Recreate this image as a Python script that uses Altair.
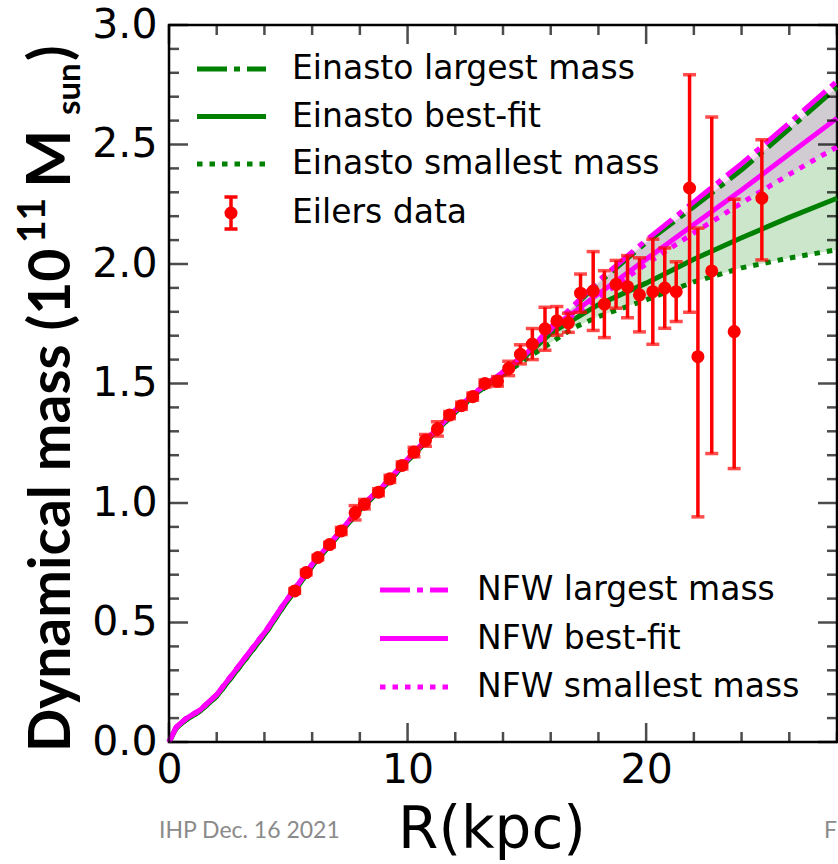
import altair as alt
import pandas as pd

# ---------------- data ----------------
R_eilers = [5.27, 5.75, 6.24, 6.73, 7.22, 7.80, 8.19, 8.78, 9.26, 9.77,
            10.27, 10.75, 11.25, 11.76, 12.26, 12.73, 13.24, 13.77, 14.24, 14.73,
            15.23, 15.76, 16.26, 16.74, 17.25, 17.78, 18.25, 18.74, 19.22, 19.72,
            20.28, 20.78, 21.26, 21.82, 22.17, 22.75, 23.69, 24.85]
M_eilers = [0.632, 0.709, 0.772, 0.826, 0.883, 0.959, 0.995, 1.045, 1.101, 1.157,
            1.213, 1.262, 1.310, 1.368, 1.407, 1.445, 1.500, 1.509, 1.563, 1.622,
            1.665, 1.729, 1.762, 1.754, 1.878, 1.887, 1.832, 1.915, 1.905, 1.871,
            1.884, 1.899, 1.884, 2.318, 1.612, 1.971, 1.717, 2.276]
err_low = [0.010, 0.010, 0.010, 0.010, 0.015, 0.030, 0.020, 0.015, 0.015, 0.015,
           0.020, 0.025, 0.030, 0.015, 0.015, 0.015, 0.015, 0.020, 0.030, 0.040,
           0.065, 0.090, 0.060, 0.040, 0.080, 0.165, 0.140, 0.100, 0.130, 0.155,
           0.220, 0.168, 0.125, 0.520, 0.670, 0.764, 0.573, 0.259]
err_high = [0.010, 0.010, 0.010, 0.010, 0.015, 0.030, 0.020, 0.015, 0.015, 0.015,
            0.020, 0.025, 0.030, 0.015, 0.015, 0.015, 0.015, 0.020, 0.030, 0.040,
            0.065, 0.090, 0.060, 0.040, 0.080, 0.165, 0.140, 0.100, 0.130, 0.155,
            0.220, 0.168, 0.125, 0.474, 0.538, 0.644, 0.554, 0.244]

R_model = [0, 0.3, 0.7, 1.3, 2, 2.7, 3.4, 4.1, 4.8, 5.5, 6, 7, 8, 9, 10, 11, 12, 13, 14,
           15, 16, 17, 18, 20, 22, 24, 26, 28]
einasto_largest = [0, 0.06, 0.095, 0.132, 0.195, 0.285, 0.376, 0.467, 0.572, 0.669, 0.741,
                   0.857, 0.977, 1.071, 1.180, 1.284, 1.385, 1.472, 1.545,
                   1.628, 1.730, 1.825, 1.920, 2.090, 2.240, 2.394, 2.565, 2.740]
einasto_best = [0, 0.058, 0.092, 0.129, 0.191, 0.280, 0.371, 0.462, 0.567, 0.664, 0.736,
                0.853, 0.972, 1.067, 1.176, 1.280, 1.381, 1.468, 1.540,
                1.620, 1.710, 1.770, 1.830, 1.920, 2.020, 2.110, 2.195, 2.275]
einasto_smallest = [0, 0.058, 0.092, 0.129, 0.191, 0.280, 0.371, 0.462, 0.567, 0.664, 0.736,
                    0.853, 0.972, 1.067, 1.176, 1.280, 1.380, 1.465, 1.535,
                    1.605, 1.670, 1.735, 1.780, 1.850, 1.925, 1.984, 2.025, 2.060]
nfw_largest = [0, 0.062, 0.097, 0.134, 0.198, 0.289, 0.380, 0.471, 0.576, 0.672, 0.744,
               0.860, 0.980, 1.074, 1.183, 1.287, 1.388, 1.475, 1.548,
               1.630, 1.735, 1.830, 1.930, 2.100, 2.260, 2.420, 2.590, 2.765]
nfw_best = [0, 0.062, 0.097, 0.134, 0.198, 0.289, 0.380, 0.471, 0.576, 0.672, 0.744,
            0.860, 0.980, 1.074, 1.183, 1.287, 1.388, 1.475, 1.548,
            1.628, 1.730, 1.800, 1.875, 2.020, 2.165, 2.310, 2.460, 2.610]
nfw_smallest = [0, 0.062, 0.097, 0.134, 0.198, 0.289, 0.380, 0.471, 0.576, 0.672, 0.744,
                0.860, 0.980, 1.074, 1.183, 1.287, 1.388, 1.475, 1.548,
                1.625, 1.725, 1.790, 1.860, 2.000, 2.130, 2.255, 2.375, 2.490]

einasto_labels = ["Einasto largest mass", "Einasto best-fit", "Einasto smallest mass"]
nfw_labels = ["NFW largest mass", "NFW best-fit", "NFW smallest mass"]
data_label = "Eilers data"

x_major = [0, 10, 20]
x_minor = [2, 4, 6, 8, 12, 14, 16, 18, 22, 24, 26, 28]
y_major = [0.0, 0.5, 1.0, 1.5, 2.0, 2.5, 3.0]
y_minor = [0.1, 0.2, 0.3, 0.4, 0.6, 0.7, 0.8, 0.9, 1.1, 1.2, 1.3, 1.4, 1.6, 1.7, 1.8, 1.9,
           2.1, 2.2, 2.3, 2.4, 2.6, 2.7, 2.8, 2.9]

# ---------------- styling ----------------
W, H = 668, 717
GREEN, MAGENTA, RED, INK = "#008000", "#ff00ff", "#ff0000", "#000000"
DASHDOT = [30, 7, 6, 7]
DOT = [5.5, 7]
LW = 5
FONT = "DejaVu Sans"
MAJ, MIN, TW = 19, 10, 2.5
X_LO, X_HI, Y_LO, Y_HI = 0, 28, 0, 3

xs = alt.Scale(domain=[X_LO, X_HI], nice=False, zero=False)
ys = alt.Scale(domain=[Y_LO, Y_HI], nice=False, zero=False)

df_e = pd.DataFrame({"R": R_eilers, "M": M_eilers, "el": err_low, "eh": err_high})
df_m = pd.DataFrame({"R": R_model, "EL": einasto_largest, "EB": einasto_best,
                     "ES": einasto_smallest, "NL": nfw_largest, "NB": nfw_best,
                     "NS": nfw_smallest})

X = lambda f: alt.X(f, type="quantitative", scale=xs, axis=None)
Y = lambda f: alt.Y(f, type="quantitative", scale=ys, axis=None)

layers = []

# bands
layers.append(alt.Chart(df_m).mark_area(color=GREEN, opacity=0.2).encode(
    x=X("R"), y=Y("ES"), y2="EL"))
layers.append(alt.Chart(df_m).mark_area(color=MAGENTA, opacity=0.11).encode(
    x=X("R"), y=Y("NS"), y2="NL"))

# model lines
for col, color, dash in [("EL", GREEN, DASHDOT), ("EB", GREEN, None), ("ES", GREEN, DOT),
                         ("NL", MAGENTA, DASHDOT), ("NB", MAGENTA, None), ("NS", MAGENTA, DOT)]:
    kw = dict(color=color, strokeWidth=LW)
    if dash:
        kw["strokeDash"] = dash
    layers.append(alt.Chart(df_m).mark_line(**kw).encode(x=X("R"), y=Y(col)))

# data with error bars
err = alt.Chart(df_e).transform_calculate(lo="datum.M - datum.el", hi="datum.M + datum.eh")
layers.append(err.mark_rule(color=RED, strokeWidth=3.5).encode(x=X("R"), y=Y("lo"), y2="hi"))
layers.append(err.mark_tick(color=RED, orient="horizontal", size=13, thickness=3.5).encode(
    x=X("R"), y=Y("lo")))
layers.append(err.mark_tick(color=RED, orient="horizontal", size=13, thickness=3.5).encode(
    x=X("R"), y=Y("hi")))
layers.append(alt.Chart(df_e).mark_circle(color=RED, size=170, opacity=1).encode(
    x=X("R"), y=Y("M")))

one = alt.Data(values=[{"k": 0}])


def legend_line(x1, x2, y, color, dash):
    kw = dict(color=color, strokeWidth=LW)
    if dash:
        kw["strokeDash"] = dash
    return alt.Chart(one).mark_rule(**kw).encode(
        x=alt.value(x1), x2=alt.value(x2), y=alt.value(y))


def text(t, x, y, size, **kw):
    return alt.Chart(one).mark_text(text=t, fontSize=size, **kw).encode(
        x=alt.value(x), y=alt.value(y))


styles = [DASHDOT, None, DOT]
for i, lab in enumerate(einasto_labels):
    y = 44 + 47.5 * i
    layers.append(legend_line(28, 97, y, GREEN, styles[i]))
    layers.append(text(lab, 123, y, 33, font=FONT, align="left", baseline="middle", color=INK))
for i, lab in enumerate(nfw_labels):
    y = 565 + 48.5 * i
    layers.append(legend_line(211, 279, y, MAGENTA, styles[i]))
    layers.append(text(lab, 308, y, 33, font=FONT, align="left", baseline="middle", color=INK))

# Eilers legend symbol
layers.append(alt.Chart(one).mark_rule(color=RED, strokeWidth=3.5).encode(
    x=alt.value(62), y=alt.value(172), y2=alt.value(204)))
for yy in (172, 204):
    layers.append(alt.Chart(one).mark_rule(color=RED, strokeWidth=3.5).encode(
        x=alt.value(55.5), x2=alt.value(68.5), y=alt.value(yy)))
layers.append(alt.Chart(one).mark_circle(color=RED, size=170, opacity=1).encode(
    x=alt.value(62), y=alt.value(188)))
layers.append(text(data_label, 123, 188, 33, font=FONT, align="left", baseline="middle", color=INK))

# axis titles
layers.append(text("R(kpc)", 323, 823, 58, font=FONT, align="center", baseline="alphabetic", color=INK))
TF = "Lato"
rot = dict(font=TF, fontWeight="bold", angle=270, align="left", baseline="alphabetic", color=INK)
layers.append(text("Dynamical mass (10", -99, 727, 57, **rot))
layers.append(text("11", -124, 218, 39, **rot))
layers.append(text("M", -99, 163, 62, **rot))
layers.append(text("sun", -89, 90, 33, **rot))
layers.append(text(")", -99, 36, 57, **rot))

# slide footer
layers.append(text("IHP Dec. 16 2021", -10, 813, 23, font="Lato", align="left",
                   baseline="alphabetic", color="#8a8a8a"))
layers.append(text("F", 655, 813, 23, font="Lato", align="left",
                   baseline="alphabetic", color="#8a8a8a"))


# inward ticks on all four sides, placed on the frame edges through the scales
def edge_data(vals, edge):
    return alt.Data(values=[{"v": float(v), "e": float(edge)} for v in vals])


def yticks(vals, length):
    return [alt.Chart(edge_data(vals, edge)).mark_tick(
                color=INK, orient="horizontal", size=length, thickness=TW, xOffset=off).encode(
                x=alt.X("e:Q", scale=xs, axis=None), y=alt.Y("v:Q", scale=ys, axis=None))
            for edge, off in ((X_LO, length / 2), (X_HI, -length / 2))]


def xticks(vals, length):
    return [alt.Chart(edge_data(vals, edge)).mark_tick(
                color=INK, orient="vertical", size=length, thickness=TW, yOffset=off).encode(
                x=alt.X("v:Q", scale=xs, axis=None), y=alt.Y("e:Q", scale=ys, axis=None))
            for edge, off in ((Y_LO, -length / 2), (Y_HI, length / 2))]


layers += yticks(y_major, MAJ) + yticks(y_minor, MIN) + xticks(x_major, MAJ) + xticks(x_minor, MIN)

# tick labels (axis carrier layer last)
layers.append(alt.Chart(df_e).mark_point(opacity=0).encode(
    x=alt.X("R:Q", scale=xs, axis=alt.Axis(
        orient="bottom", values=x_major, ticks=False, domain=False, grid=False,
        labelFont=FONT, labelFontSize=41, labelColor=INK, labelPadding=8,
        labelFlush=False, labelOverlap=False, title=None, format="d")),
    y=alt.Y("M:Q", scale=ys, axis=alt.Axis(
        orient="left", values=y_major, ticks=False, domain=False, grid=False,
        labelFont=FONT, labelFontSize=41, labelColor=INK, labelPadding=12,
        labelFlush=False, labelOverlap=False, title=None, format=".1f"))))

chart = alt.layer(*layers).resolve_axis(x="independent", y="independent").properties(
    width=W, height=H,
    padding={"left": 169, "top": 25, "right": 1, "bottom": 122},
    autosize=alt.AutoSizeParams(type="none"),
    background="white",
).configure_view(stroke=INK, strokeWidth=2.5)

chart.save("out.html", embed_options={"renderer": "svg", "actions": False})
